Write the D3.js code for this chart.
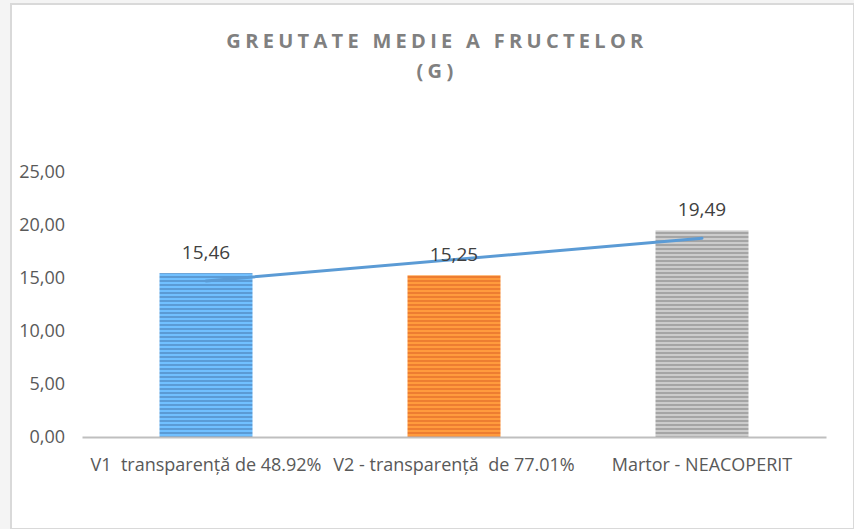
<!DOCTYPE html>
<html>
<head>
<meta charset="utf-8">
<script src="https://cdn.jsdelivr.net/npm/d3@7"></script>
<style>
  body { margin: 0; background: #fff; }
  svg text { font-family: "Open Sans", "Liberation Sans", sans-serif; white-space: pre; }
</style>
</head>
<body>
<div id="grafic"></div>
<script>
// date din grafic
const categorii = ["V1  transparență de 48.92%", "V2 - transparență  de 77.01%", "Martor - NEACOPERIT"];
const valori = [15.46, 15.25, 19.49];
const etichete = ["15,46", "15,25", "19,49"];
const culori = ["#5B9BD5", "#ED7D31", "#A5A5A5"];
const tickuri = [0, 5, 10, 15, 20, 25];
const titlu = ["GREUTATE MEDIE A FRUCTELOR", "(G)"];

const width = 854, height = 529;
const margin = { top: 172, right: 28, bottom: 92, left: 82 };

const svg = d3.select("#grafic").append("svg")
  .attr("width", width)
  .attr("height", height);

// fundal + chenar
svg.append("rect").attr("x", 0).attr("y", 0).attr("width", 11).attr("height", height).attr("fill", "#f4f4f4");
svg.append("rect").attr("x", 0).attr("y", 0).attr("width", width).attr("height", 4).attr("fill", "#f4f4f4");
svg.append("rect").attr("x", 11).attr("y", 4).attr("width", width - 11).attr("height", height - 4)
  .attr("fill", "#fff").attr("stroke", "#d9d9d9").attr("stroke-width", 2);

// modele cu dungi orizontale
const defs = svg.append("defs");
culori.forEach((c, i) => {
  const p = defs.append("pattern")
    .attr("id", "dungi" + i)
    .attr("patternUnits", "userSpaceOnUse")
    .attr("width", 8).attr("height", 4);
  p.append("rect").attr("width", 8).attr("height", 4).attr("fill", d3.color(c).brighter(0.6));
  p.append("rect").attr("width", 8).attr("height", 2).attr("fill", c);
});

const x = d3.scaleBand()
  .domain(categorii)
  .range([margin.left, width - margin.right])
  .paddingInner(0.625)
  .paddingOuter(0.3125);

const y = d3.scaleLinear()
  .domain([0, 25])
  .range([height - margin.bottom, margin.top]);

// titlu
svg.append("g").selectAll("text")
  .data(titlu)
  .enter()
  .append("text")
  .attr("x", 437)
  .attr("y", (d, i) => 48 + i * 30)
  .attr("text-anchor", "middle")
  .attr("fill", "#808080")
  .attr("font-size", 20)
  .attr("font-weight", "bold")
  .attr("letter-spacing", 4.3)
  .text(d => d);

// axa Y (doar etichete)
const yAxis = d3.axisLeft(y)
  .tickValues(tickuri)
  .tickSize(0)
  .tickPadding(0)
  .tickFormat(d => d3.format(".2f")(d).replace(".", ","));

const gy = svg.append("g")
  .attr("transform", `translate(65, 0)`)
  .call(yAxis);
gy.select(".domain").remove();
gy.selectAll("text")
  .attr("fill", "#595959")
  .attr("font-size", 18)
  .attr("font-family", "'Open Sans', sans-serif");

// bare
svg.selectAll("rect.bara")
  .data(valori)
  .enter()
  .append("rect")
  .attr("class", "bara")
  .attr("x", (d, i) => x(categorii[i]))
  .attr("y", d => y(d))
  .attr("width", x.bandwidth())
  .attr("height", d => y(0) - y(d))
  .attr("fill", (d, i) => `url(#dungi${i})`);

// axa X
const xAxis = d3.axisBottom(x).tickSize(0).tickPadding(21);
const gx = svg.append("g")
  .attr("transform", `translate(0, ${y(0)})`)
  .call(xAxis);
gx.select(".domain").attr("stroke", "#bfbfbf").attr("stroke-width", 2);
gx.selectAll("text")
  .attr("fill", "#595959")
  .attr("font-size", 18)
  .attr("font-family", "'Open Sans', sans-serif");

// linie de tendinta (regresie liniara)
const xs = valori.map((d, i) => i + 1);
const mx = d3.mean(xs), my = d3.mean(valori);
const panta = d3.sum(xs, (v, i) => (v - mx) * (valori[i] - my)) / d3.sum(xs, v => (v - mx) ** 2);
const trend = [0, 2].map(i => ({ cat: categorii[i], v: my + panta * (xs[i] - mx) }));

svg.append("path")
  .datum(trend)
  .attr("fill", "none")
  .attr("stroke", "#5B9BD5")
  .attr("stroke-width", 3)
  .attr("stroke-linecap", "round")
  .attr("d", d3.line()
    .x(d => x(d.cat) + x.bandwidth() / 2)
    .y(d => y(d.v)));

// etichete de date
svg.selectAll("text.eticheta")
  .data(valori)
  .enter()
  .append("text")
  .attr("class", "eticheta")
  .attr("x", (d, i) => x(categorii[i]) + x.bandwidth() / 2)
  .attr("y", d => y(d) - 14)
  .attr("text-anchor", "middle")
  .attr("fill", "#404040")
  .attr("font-size", 19)
  .text((d, i) => etichete[i]);
</script>
</body>
</html>
